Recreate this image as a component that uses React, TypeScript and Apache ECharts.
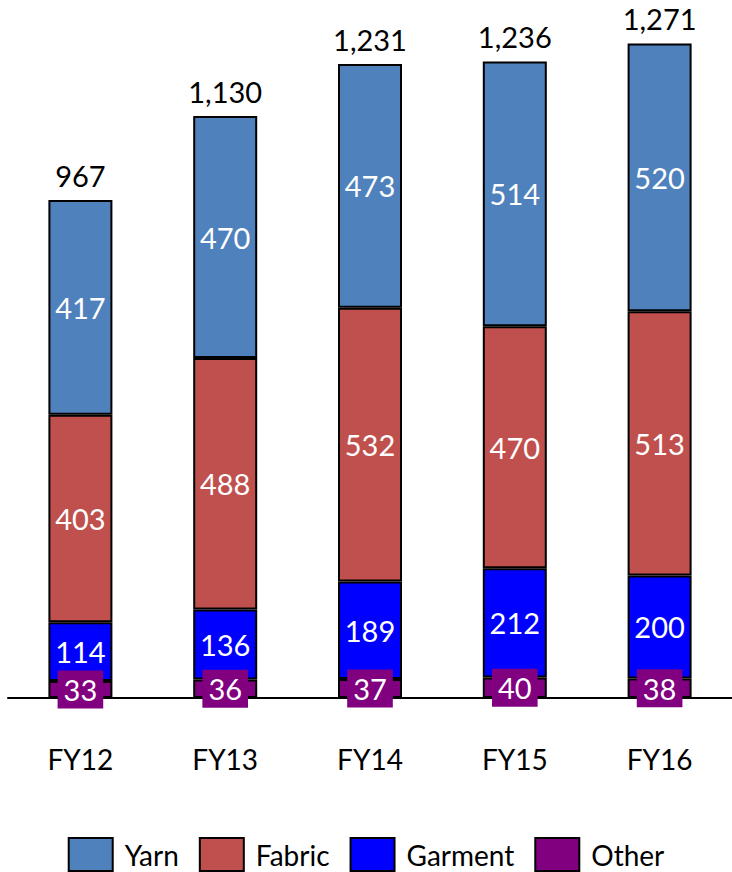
import React, { useEffect, useRef } from "react";
import * as echarts from "echarts";

const categories = ["FY12", "FY13", "FY14", "FY15", "FY16"];
const yarn = [417, 470, 473, 514, 520];
const fabric = [403, 488, 532, 470, 513];
const garment = [114, 136, 189, 212, 200];
const other = [33, 36, 37, 40, 38];
const totals = [967, 1130, 1231, 1236, 1271];

const FONT = "Lato, 'Noto Sans', sans-serif";

export default function App() {
  const ref = useRef<HTMLDivElement>(null);
  useEffect(() => {
    document.body.style.margin = "0";
    const chart = echarts.init(ref.current!, null, { renderer: "svg" });
    const base = (name: string, data: number[], color: string, extraLabel: any = {}) => ({
      name,
      type: "bar",
      stack: "s",
      data,
      barWidth: 64,
      itemStyle: { color, borderColor: "#000", borderWidth: 2 },
      label: {
        show: true,
        position: "inside",
        color: "#fff",
        fontSize: 29,
        fontFamily: FONT,
        ...extraLabel,
      },
    });
    chart.setOption({
      animation: false,
      textStyle: { fontFamily: FONT },
      grid: { left: 8, right: -6, top: 28.5, bottom: 174 },
      xAxis: {
        type: "category",
        data: categories,
        axisLine: { lineStyle: { color: "#000", width: 2 } },
        axisTick: { show: false },
        axisLabel: { color: "#000", fontSize: 28, fontFamily: FONT, margin: 47 },
      },
      yAxis: { type: "value", min: 0, max: 1300, show: false, splitLine: { show: false } },
      legend: {
        data: ["Yarn", "Fabric", "Garment", "Other"],
        icon: "rect",
        top: 837,
        left: "center",
        padding: 0,
        itemWidth: 44,
        itemHeight: 33,
        itemGap: 20,
        textStyle: {
          color: "#000",
          fontSize: 28,
          fontFamily: FONT,
          lineHeight: 33,
          padding: [0, 0, 0, 7],
        },
      },
      series: [
        base("Other", other, "#800080", {
          backgroundColor: "#800080",
          padding: [5, 6, 4, 6],
        }),
        base("Garment", garment, "#0000FF"),
        base("Fabric", fabric, "#C0504D"),
        base("Yarn", yarn, "#4F81BD"),
        {
          name: "Total",
          type: "bar",
          stack: "s",
          data: totals.map(() => 0),
          barWidth: 64,
          itemStyle: { color: "transparent" },
          label: {
            show: true,
            position: "top",
            distance: 10,
            color: "#000",
            fontSize: 29,
            fontFamily: FONT,
            formatter: (p: any) => totals[p.dataIndex].toLocaleString("en-US"),
          },
        },
      ],
    });
    return () => chart.dispose();
  }, []);
  return <div ref={ref} style={{ width: 732, height: 872 }} />;
}
